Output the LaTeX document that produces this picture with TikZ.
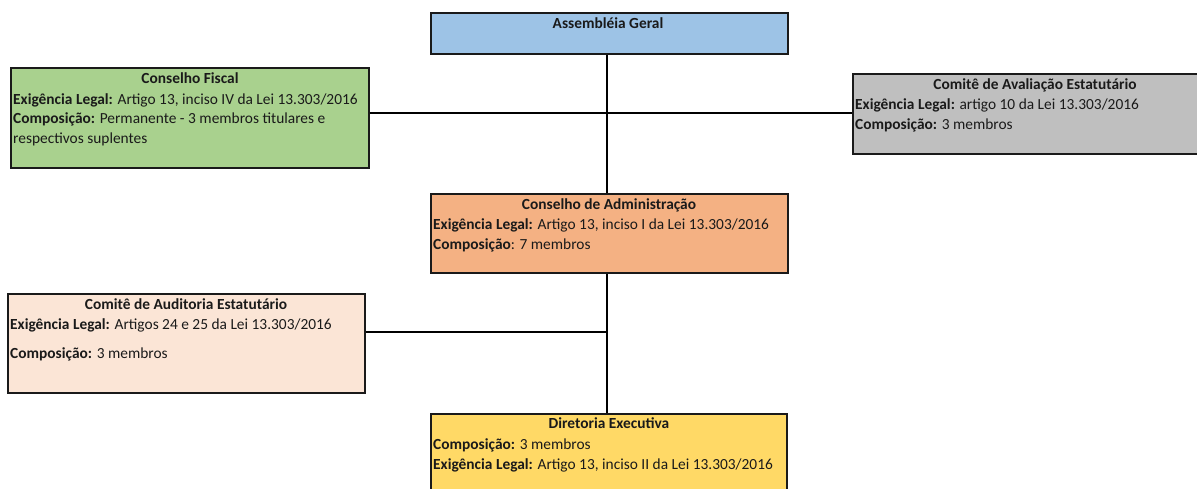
\documentclass[tikz,border=0pt]{standalone}
\usepackage{fontspec}
\setmainfont{Carlito}
\definecolor{agblue}{HTML}{9DC3E6}
\definecolor{cfgreen}{HTML}{A9D18E}
\definecolor{cagray}{HTML}{BFBFBF}
\definecolor{caorange}{HTML}{F4B183}
\definecolor{aupeach}{HTML}{FBE5D6}
\definecolor{deyellow}{HTML}{FFD966}
\definecolor{ink}{HTML}{1A1A1A}
\begin{document}
\begin{tikzpicture}[x=1pt,y=-1pt,
  orgbox/.style={draw=ink,line width=1.7pt,rectangle,anchor=north west,inner sep=0pt},
  boxtitle/.style={anchor=base,font=\fontsize{15.4}{20}\selectfont\bfseries,inner sep=0pt,text=ink},
  boxbody/.style={anchor=base west,font=\fontsize{15.4}{20}\selectfont,inner sep=0pt,text=ink},
  link/.style={draw=black,line width=1.7pt}]
\useasboundingbox (0,0) rectangle (1197,488);
% boxes
\node[orgbox,fill=agblue,minimum width=357pt,minimum height=41pt] (ag) at (430,12) {};
\node[orgbox,fill=cfgreen,minimum width=358pt,minimum height=100pt] (cf) at (10,67) {};
\node[orgbox,fill=cagray,minimum width=366pt,minimum height=80pt] (ca) at (852,73) {};
\node[orgbox,fill=caorange,minimum width=357pt,minimum height=79pt] (cad) at (430,193) {};
\node[orgbox,fill=aupeach,minimum width=357pt,minimum height=99pt] (au) at (7,293) {};
\node[orgbox,fill=deyellow,minimum width=356pt,minimum height=90pt] (de) at (430,413) {};
% connectors
\coordinate (spine) at (607,0);
\draw[link] (ag.south -| spine) -- (cad.north -| spine);
\draw[link] (cad.south -| spine) -- (de.north -| spine);
\draw[link] (cf.east |- 0,113) coordinate (j1a) -- (ca.west |- j1a);
\coordinate (j2) at (607,332);
\draw[link] (au.east |- j2) -- (j2);
% texts
\node[boxtitle] (agt) at (608,28) {Assembléia Geral};
\node[boxtitle] (cft) at (190,83) {Conselho Fiscal};
\node[boxbody] (cfb1) at (13,104) {\textbf{Exigência Legal:} Artigo 13, inciso IV da Lei 13.303/2016};
\node[boxbody] (cfb2) at (13,123.5) {\textbf{Composição:} Permanente - 3 membros titulares e};
\node[boxbody] (cfb3) at (13,143) {respectivos suplentes};
\node[boxtitle] (cat) at (1035,89) {Comitê de Avaliação Estatutário};
\node[boxbody] (cab1) at (855,109) {\textbf{Exigência Legal:} artigo 10 da Lei 13.303/2016};
\node[boxbody] (cab2) at (855,129) {\textbf{Composição:} 3 membros};
\node[boxtitle] (cadt) at (609,209) {Conselho de Administração};
\node[boxbody] (cadb1) at (433,229) {\textbf{Exigência Legal:} Artigo 13, inciso I da Lei 13.303/2016};
\node[boxbody] (cadb2) at (433,249) {\textbf{Composição}: 7 membros};
\node[boxtitle] (aut) at (186,309) {Comitê de Auditoria Estatutário};
\node[boxbody] (aub1) at (10,329) {\textbf{Exigência Legal:} Artigos 24 e 25 da Lei 13.303/2016};
\node[boxbody] (aub2) at (10,358) {\textbf{Composição:} 3 membros};
\node[boxtitle] (det) at (609,428) {Diretoria Executiva};
\node[boxbody] (deb1) at (433,449) {\textbf{Composição:} 3 membros};
\node[boxbody] (deb2) at (433,469) {\textbf{Exigência Legal:} Artigo 13, inciso II da Lei 13.303/2016};
\end{tikzpicture}
\end{document}
